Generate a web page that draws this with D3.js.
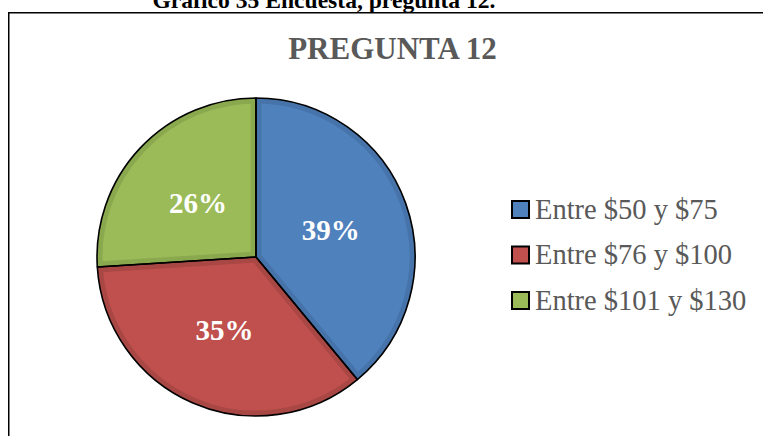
<!DOCTYPE html>
<html>
<head>
<meta charset="utf-8">
<script src="https://cdn.jsdelivr.net/npm/d3@7"></script>
<style>
  html, body { margin: 0; padding: 0; background: #fff; overflow: hidden; }
  text { font-family: "Liberation Serif", "Times New Roman", serif; }
</style>
</head>
<body>
<div id="chart"></div>
<script>
const categories = ["Entre $50 y $75", "Entre $76 y $100", "Entre $101 y $130"];
const values = [39, 35, 26];
const caption = "Gráfico 35 Encuesta, pregunta 12.";
const title = "PREGUNTA 12";

const fullWidth = 763;
const fullHeight = 436;
const center = { x: 256, y: 257 };
const radius = 159;

const fills = ["#4F81BD", "#C0504D", "#9BBB59"];
const edges = ["#4674AA", "#A94744", "#8AA84E"];

const svg = d3.select('#chart')
  .append('svg')
  .attr('width', fullWidth)
  .attr('height', fullHeight);

// caption above the chart box (cut by the top edge, as in the source)
svg.append('text')
  .attr('x', 324)
  .attr('y', 8)
  .attr('text-anchor', 'middle')
  .attr('font-size', 23.6)
  .attr('font-weight', 'bold')
  .attr('fill', '#000')
  .text(caption);

// chart area border
svg.append('rect')
  .attr('x', 8.75)
  .attr('y', 12.75)
  .attr('width', 800)
  .attr('height', 500)
  .attr('fill', 'none')
  .attr('stroke', '#000')
  .attr('stroke-width', 1.5);

svg.append('text')
  .attr('x', 392.5)
  .attr('y', 59)
  .attr('text-anchor', 'middle')
  .attr('font-size', 31)
  .attr('font-weight', 'bold')
  .attr('fill', '#595959')
  .text(title);

const color = d3.scaleOrdinal().domain(categories).range(fills);
const edge = d3.scaleOrdinal().domain(categories).range(edges);

const pie = d3.pie().sort(null).value(d => d.value);
const slices = pie(categories.map((c, i) => ({ name: c, value: values[i] })));

const arc = d3.arc().innerRadius(0).outerRadius(radius);
const labelArc = d3.arc().innerRadius(radius * 0.5).outerRadius(radius * 0.5);

const defs = svg.append('defs');
defs.selectAll('clipPath')
  .data(slices)
  .join('clipPath')
  .attr('id', (d, i) => `clip-${i}`)
  .append('path')
  .attr('d', arc);

const g = svg.append('g')
  .attr('transform', `translate(${center.x}, ${center.y})`);

g.selectAll('path.slice')
  .data(slices)
  .join('path')
  .attr('class', 'slice')
  .attr('d', arc)
  .attr('fill', d => color(d.data.name));

// darker inner bevel along the slice edges
g.selectAll('path.bevel')
  .data(slices)
  .join('path')
  .attr('class', 'bevel')
  .attr('d', arc)
  .attr('fill', 'none')
  .attr('stroke', d => edge(d.data.name))
  .attr('stroke-width', 11)
  .attr('stroke-linejoin', 'round')
  .attr('clip-path', (d, i) => `url(#clip-${i})`);

g.selectAll('path.outline')
  .data(slices)
  .join('path')
  .attr('class', 'outline')
  .attr('d', arc)
  .attr('fill', 'none')
  .attr('stroke', '#000')
  .attr('stroke-width', 1.6)
  .attr('stroke-linejoin', 'round');

g.selectAll('text.label')
  .data(slices)
  .join('text')
  .attr('class', 'label')
  .attr('transform', d => `translate(${labelArc.centroid(d)})`)
  .attr('dy', '0.35em')
  .attr('text-anchor', 'middle')
  .attr('font-size', 29)
  .attr('font-weight', 'bold')
  .attr('fill', '#fff')
  .text(d => `${d.data.value}%`);

// legend
const legend = svg.append('g')
  .attr('transform', 'translate(511, 200)');

const rows = legend.selectAll('g')
  .data(categories)
  .join('g')
  .attr('transform', (d, i) => `translate(0, ${i * 45.5})`);

rows.append('rect')
  .attr('x', 1)
  .attr('y', 1)
  .attr('width', 17)
  .attr('height', 17)
  .attr('fill', d => color(d))
  .attr('stroke', '#000')
  .attr('stroke-width', 2);

rows.append('text')
  .attr('x', 24)
  .attr('y', 18.5)
  .attr('font-size', 28.5)
  .attr('fill', '#595959')
  .text(d => d);
</script>
</body>
</html>
